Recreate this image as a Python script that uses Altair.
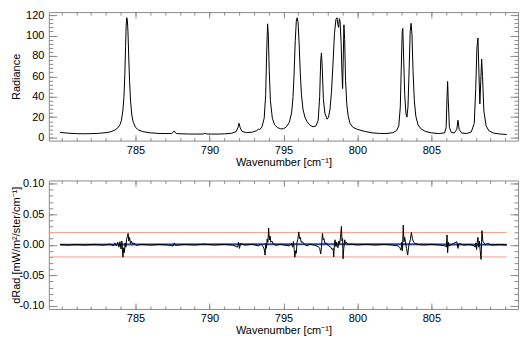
import altair as alt
import pandas as pd

# ---------------- data ----------------
wn_top = [779.9, 780.5, 781.0, 781.5, 782.0, 782.5, 783.0, 783.3, 783.6, 783.8,
          783.95, 784.05, 784.15, 784.22, 784.28, 784.33, 784.37, 784.41, 784.45, 784.49,
          784.54, 784.6, 784.67, 784.75, 784.85, 785.0, 785.2, 785.5, 786.0, 786.5,
          787.0, 787.45, 787.55, 787.62, 787.7, 787.8, 788.5, 789.0, 789.6, 789.7,
          789.8, 790.5, 791.0, 791.5, 791.8, 791.92, 792.0, 792.08, 792.2, 792.5,
          792.9, 793.2, 793.3, 793.4, 793.55, 793.7, 793.8, 793.87, 793.93, 793.98,
          794.04, 794.12, 794.25, 794.4, 794.6, 794.8, 795.0, 795.2, 795.4, 795.55,
          795.65, 795.72, 795.8, 795.87, 795.93, 795.99, 796.06, 796.14, 796.22, 796.32,
          796.45, 796.6, 796.8, 797.0, 797.2, 797.35, 797.45, 797.52, 797.57, 797.62,
          797.7, 797.8, 797.95, 798.05, 798.15, 798.25, 798.35, 798.45, 798.55, 798.62,
          798.68, 798.73, 798.78, 798.83, 798.9, 798.96, 799.0, 799.04, 799.09, 799.14,
          799.2, 799.28, 799.38, 799.5, 799.7, 800.0, 800.5, 801.0, 801.5, 802.0,
          802.4, 802.65, 802.8, 802.9, 802.97, 803.03, 803.07, 803.12, 803.2, 803.28,
          803.35, 803.42, 803.5, 803.57, 803.63, 803.69, 803.76, 803.85, 803.95, 804.1,
          804.3, 804.6, 805.0, 805.5, 805.9, 806.0, 806.06, 806.1, 806.14, 806.22,
          806.35, 806.55, 806.72, 806.8, 806.88, 807.05, 807.4, 807.7, 807.9, 808.0,
          808.08, 808.15, 808.22, 808.28, 808.34, 808.4, 808.46, 808.55, 808.7, 808.9,
          809.2, 809.6, 810.1]
rad_top = [5.0, 4.2, 3.8, 3.7, 3.8, 4.1, 4.8, 5.6, 7.2, 9.5,
           12.5, 17, 27, 40, 62, 90, 110, 117.5, 115, 104,
           80, 55, 35, 22, 15, 10, 7.5, 5.8, 4.6, 4.1,
           3.9, 4.0, 5.2, 6.5, 4.6, 3.8, 3.5, 3.4, 3.5, 4.3,
           3.5, 3.4, 3.6, 4.2, 5.8, 9.5, 14, 9.5, 6.0, 4.8,
           5.3, 6.8, 8.2, 7.8, 10.5, 19, 42, 85, 111.5, 100,
           66, 36, 19, 12.5, 9.8, 8.6, 8.6, 10.5, 15, 24,
           40, 62, 95, 114, 117.5, 113, 93, 63, 42, 28,
           20, 15.5, 12, 10.5, 11.5, 17, 40, 75, 83, 70,
           38, 24, 18, 20, 28, 45, 72, 102, 116, 117.5,
           111, 108, 116.5, 114, 93, 62, 48, 75, 110.5, 96,
           56, 33, 21, 14, 10, 8, 6, 4.6, 4.0, 4.0,
           4.8, 6.8, 11.5, 30, 70, 104, 107, 82, 42, 24,
           20, 30, 68, 104, 112, 101, 66, 36, 21, 12.5,
           8.5, 6.0, 4.6, 3.9, 4.6, 10, 40, 55, 38, 10,
           5, 4.5, 8, 17, 8, 4.4, 4.0, 5.5, 14, 48,
           88, 97.5, 62, 33, 55, 77, 60, 26, 11.5, 6.5,
           4.4, 3.5, 3.0]

wn_diff = [779.9, 780.4, 781.0, 781.6, 782.2, 782.8, 783.3, 783.5, 783.6, 783.7,
           783.8, 783.88, 783.95, 784.02, 784.08, 784.15, 784.2, 784.25, 784.3, 784.35,
           784.4, 784.45, 784.5, 784.55, 784.6, 784.66, 784.72, 784.8, 784.9, 785.05,
           785.4, 786.0, 786.6, 787.2, 787.55, 787.62, 787.7, 788.3, 789.0, 789.65,
           790.3, 791.0, 791.6, 791.9, 791.97, 792.03, 792.1, 792.4, 792.9, 793.3,
           793.5, 793.62, 793.7, 793.76, 793.8, 793.85, 793.9, 793.95, 794.0, 794.05,
           794.1, 794.15, 794.22, 794.32, 794.5, 794.8, 795.1, 795.4, 795.55, 795.62,
           795.68, 795.73, 795.77, 795.82, 795.87, 795.92, 795.97, 796.04, 796.09, 796.14,
           796.2, 796.28, 796.4, 796.6, 796.8, 797.1, 797.35, 797.45, 797.52, 797.57,
           797.6, 797.64, 797.69, 797.74, 797.8, 797.9, 798.05, 798.2, 798.3, 798.36,
           798.4, 798.45, 798.49, 798.55, 798.6, 798.65, 798.69, 798.75, 798.8, 798.86,
           798.92, 798.96, 799.0, 799.03, 799.08, 799.14, 799.2, 799.26, 799.35, 799.6,
           800.0, 800.6, 801.2, 801.8, 802.4, 802.75, 802.85, 802.95, 803.0, 803.05,
           803.1, 803.15, 803.2, 803.26, 803.32, 803.4, 803.46, 803.52, 803.58, 803.65,
           803.72, 803.8, 803.9, 804.1, 804.5, 805.0, 805.6, 805.95, 806.02, 806.06,
           806.1, 806.15, 806.2, 806.4, 806.72, 806.8, 806.86, 807.2, 807.6, 807.9,
           807.96, 808.01, 808.06, 808.1, 808.15, 808.2, 808.25, 808.3, 808.36, 808.42,
           808.48, 808.55, 808.65, 808.8, 809.1, 809.6, 810.1]
d_diff = [0.0006, -0.0006, 0.0005, -0.0005, 0.0006, -0.0006, 0.001, -0.002, 0.003, -0.002,
          0.004, -0.004, 0.005, -0.007, 0.006, -0.0205, -0.005, -0.013, 0.003, -0.004,
          0.009, 0.013, 0.0185, 0.006, 0.012, 0.002, 0.006, 0.001, 0.003, -0.001,
          0.0006, -0.0006, 0.0005, -0.0005, -0.002, 0.003, -0.001, 0.0005, -0.0005, 0.001,
          -0.0005, 0.0005, -0.0008, -0.004, 0.004, -0.006, 0.002, -0.0006, 0.0008, -0.002,
          0.001, -0.003, -0.007, -0.017, 0.002, -0.006, 0.009, 0.004, 0.027, 0.008,
          0.014, 0.004, 0.006, 0.001, -0.001, 0.0006, -0.0008, -0.002, 0.002, -0.004,
          0.005, -0.008, -0.0205, -0.01, -0.014, 0.004, 0.008, 0.021, 0.01, 0.012,
          0.004, 0.005, 0.001, -0.002, 0.001, -0.001, -0.003, -0.006, -0.015, -0.004,
          0.006, 0.0185, 0.008, 0.01, 0.002, 0.003, -0.002, -0.004, -0.008, -0.006,
          -0.02, 0.002, 0.008, -0.003, 0.004, -0.004, -0.005, 0.006, 0.002, 0.012,
          0.030, 0.006, 0.01, -0.023, -0.006, 0.008, 0.002, 0.004, 0.0005, 0.001,
          -0.0005, 0.0006, -0.0006, 0.0005, -0.0006, -0.002, -0.004, -0.009, 0.004, -0.01,
          0.032, 0.005, 0.012, 0.002, -0.006, -0.017, -0.004, 0.003, 0.008, 0.020,
          0.01, 0.004, 0.002, 0.0005, -0.0005, 0.0006, -0.0006, -0.002, -0.004, 0.016,
          -0.013, 0.004, -0.002, 0.0005, 0.005, -0.006, 0.002, -0.0005, 0.0006, -0.002,
          -0.004, 0.003, -0.008, 0.004, 0.012, -0.004, 0.006, -0.009, -0.024, 0.023,
          0.006, 0.003, 0.0005, 0.002, -0.0005, 0.0005, -0.0005]

wn_blue = [779.9, 784.4, 795.9, 798.9, 803.1, 810.1]
d_blue = [0.0, 0.0005, 0.0008, 0.0008, 0.0006, 0.0]

limit_vals = [0.02, -0.02]
limit_start = [779.14, 779.14]
limit_end = [810.1, 810.1]

x_domain = [779.14, 810.86]
top_y_domain = [-3, 123]
bot_y_domain = [-0.105, 0.105]
x_major = [785, 790, 795, 800, 805]
x_minor = list(range(780, 811))
top_major = [0, 20, 40, 60, 80, 100, 120]
top_minor = list(range(0, 121, 4))
bot_major = [-0.10, -0.05, 0.0, 0.05, 0.10]
bot_minor = [round(-0.10 + 0.01 * i, 2) for i in range(21)]

assert len(wn_top) == len(rad_top)
assert len(wn_diff) == len(d_diff)

# ---------------- styling ----------------
GREY = "#8a8a8a"
FONT = "Liberation Sans"
FS = 11
W, H = 471, 129

xs = alt.Scale(domain=x_domain, nice=False, zero=False)
ys_top = alt.Scale(domain=top_y_domain, nice=False, zero=False)
ys_bot = alt.Scale(domain=bot_y_domain, nice=False, zero=False)


def label_axis_x(title):
    return alt.Axis(orient="bottom", values=x_major, title=title, domain=False, ticks=False,
                    tickSize=0, grid=False, labelFont=FONT, labelFontSize=FS,
                    labelColor="black", labelPadding=4, labelFlush=False,
                    labelOverlap=False, format="d", titleFont=FONT, titleFontSize=FS,
                    titleFontWeight="normal", titleColor="black", titlePadding=1)


def label_axis_y(title, values, fmt, labelexpr):
    return alt.Axis(orient="left", values=values, title=title, domain=False, ticks=False,
                    tickSize=0, grid=False, labelFont=FONT, labelFontSize=FS,
                    labelColor="black", labelPadding=5, labelFlush=False,
                    labelOverlap=False, format=fmt, labelExpr=labelexpr, titleFont=FONT,
                    titleFontSize=FS, titleFontWeight="normal", titleColor="black",
                    titleX=-32, titleBaseline="middle", titleAnchor="middle")


def tick_axis(orient, values, size):
    return alt.Axis(orient=orient, values=values, offset=-size, tickSize=size,
                    tickColor=GREY, tickWidth=1, labels=False, domain=False,
                    grid=False, title=None)


def axis_layers(df, xf, yf, ys, ymaj, ymin):
    specs = [("bottom", "left", x_major, ymaj, 6, 8),
             ("bottom", "left", x_minor, ymin, 3, 4),
             ("top", "right", x_major, ymaj, 6, 8),
             ("top", "right", x_minor, ymin, 3, 4)]
    out = []
    for xo, yo, xv, yv, xl, yl in specs:
        out.append(
            alt.Chart(df).mark_point(opacity=0).encode(
                x=alt.X(xf, scale=xs, axis=tick_axis(xo, xv, xl)),
                y=alt.Y(yf, scale=ys, axis=tick_axis(yo, yv, yl)),
            )
        )
    return out


# ---------------- top panel ----------------
top_df = pd.DataFrame({"wn": wn_top, "rad": rad_top})
top_line = alt.Chart(top_df).mark_line(color="black", strokeWidth=1).encode(
    x=alt.X("wn:Q", scale=xs, axis=label_axis_x("Wavenumber [cm⁻¹]")),
    y=alt.Y("rad:Q", scale=ys_top,
            axis=label_axis_y("Radiance", top_major, "d", "datum.label")),
)
top = alt.layer(top_line, *axis_layers(top_df, "wn:Q", "rad:Q", ys_top, top_major, top_minor)
                ).resolve_axis(x="independent", y="independent").properties(width=W, height=H)

# ---------------- bottom panel ----------------
diff_df = pd.DataFrame({"wn": wn_diff, "d": d_diff})
blue_df = pd.DataFrame({"wn": wn_blue, "d": d_blue})
lim_df = pd.DataFrame({"xs": limit_start, "xe": limit_end, "v": limit_vals})

red = alt.Chart(lim_df).mark_rule(color="#ff9c8c", strokeWidth=1).encode(
    x=alt.X("xs:Q", scale=xs, axis=None),
    x2="xe:Q",
    y=alt.Y("v:Q", scale=ys_bot, axis=None),
)
blue = alt.Chart(blue_df).mark_line(color="#2a4a9c", strokeWidth=2).encode(
    x=alt.X("wn:Q", scale=xs, axis=None),
    y=alt.Y("d:Q", scale=ys_bot, axis=None),
)
black = alt.Chart(diff_df).mark_line(color="black", strokeWidth=1).encode(
    x=alt.X("wn:Q", scale=xs, axis=label_axis_x("Wavenumber [cm⁻¹]")),
    y=alt.Y("d:Q", scale=ys_bot,
            axis=label_axis_y("dRad [mW/m²/ster/cm⁻¹]", bot_major, ".2f",
                              "replace(datum.label, '\u2212', '-')")),
)
bottom = alt.layer(red, blue, black,
                   *axis_layers(diff_df, "wn:Q", "d:Q", ys_bot, bot_major, bot_minor)
                   ).resolve_axis(x="independent", y="independent").properties(width=W, height=H)

chart = alt.vconcat(top, bottom, spacing=8).properties(
    padding={"left": 10, "top": 7.5, "right": 9, "bottom": 0},
    background="white",
).configure_view(stroke=GREY, strokeWidth=1)

chart.save("out.html", embed_options={"renderer": "svg", "actions": False})
